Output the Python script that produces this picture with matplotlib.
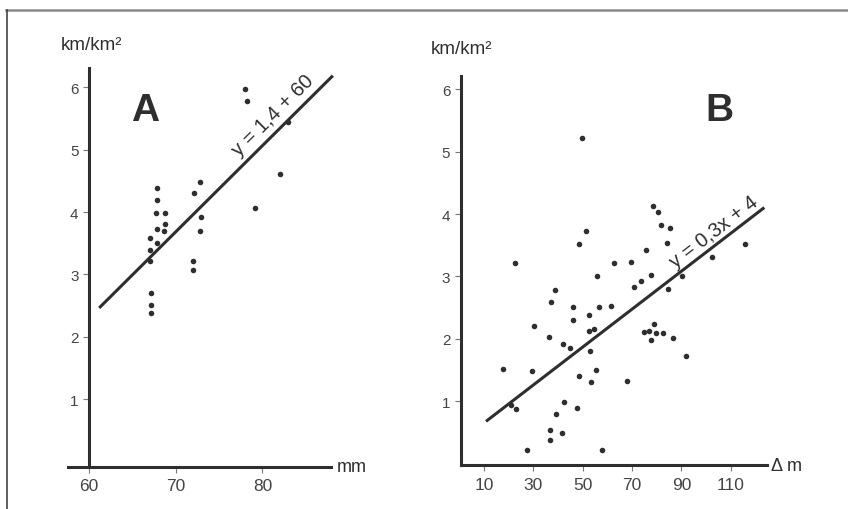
import numpy as np
import matplotlib
matplotlib.use("Agg")
import matplotlib.pyplot as plt
from matplotlib.lines import Line2D

plt.rcParams['font.family'] = ['Liberation Sans', 'DejaVu Sans']

# panel A data (mm vs km/km2)
a_x = [78.0, 78.2, 82.9, 82.0, 79.1,
       72.8, 72.1, 72.9, 72.8, 72.0, 72.0,
       67.9, 67.9, 67.7, 68.8, 68.8, 67.9, 68.7, 67.0, 67.9, 67.0,
       67.0, 67.2, 67.1, 67.1]
a_y = [5.98, 5.78, 5.45, 4.61, 4.06,
       4.48, 4.30, 3.92, 3.70, 3.22, 3.07,
       4.38, 4.19, 3.99, 3.99, 3.81, 3.73, 3.70, 3.59, 3.50, 3.39,
       3.21, 2.71, 2.51, 2.38]
fit_a_x = [61.3, 88.0]
fit_a_y = [2.48, 6.17]

# panel B data (delta m vs km/km2)
b_x = [49.6, 78.4, 80.4, 81.7, 85.5, 51.5, 48.5, 84.2, 75.5, 115.7,
       102.5, 22.4, 62.8, 69.5, 55.7, 77.6, 90.1, 73.5, 70.7, 38.7,
       84.5, 37.0, 45.9, 56.6, 61.6, 52.7, 46.1, 30.4, 78.9, 52.6,
       54.7, 75.0, 76.9, 79.8, 82.7, 36.5, 77.8, 86.5, 41.9, 44.7,
       52.8, 91.9, 17.7, 29.6, 55.5, 48.5, 53.4, 67.8, 42.4, 20.8,
       22.8, 47.7, 39.1, 36.6, 41.7, 36.6, 27.4, 58.0]
b_y = [5.22, 4.13, 4.04, 3.83, 3.77, 3.73, 3.52, 3.53, 3.43, 3.52,
       3.31, 3.21, 3.21, 3.23, 3.00, 3.03, 3.00, 2.93, 2.83, 2.79,
       2.80, 2.59, 2.51, 2.51, 2.52, 2.38, 2.30, 2.21, 2.24, 2.13,
       2.16, 2.11, 2.13, 2.09, 2.10, 2.03, 1.98, 2.02, 1.92, 1.85,
       1.80, 1.72, 1.51, 1.49, 1.50, 1.40, 1.30, 1.32, 0.98, 0.93,
       0.88, 0.89, 0.80, 0.54, 0.49, 0.38, 0.21, 0.21]
fit_b_x = [11.3, 123.1]
fit_b_y = [0.69, 4.09]

yticks = [1, 2, 3, 4, 5, 6]
a_xticks = [60, 70, 80]
b_xticks = [10, 30, 50, 70, 90, 110]

dark = '#2e2e2e'
W, H = 848, 510

fig = plt.figure(figsize=(W / 100, H / 100), dpi=100)


def box(left, right, bottom, top):
    # pixel box -> figure fraction
    return [left / W, 1 - bottom / H, (right - left) / W, (bottom - top) / H]


def style(ax, yaxis_at):
    for s in ['top', 'right']:
        ax.spines[s].set_visible(False)
    ax.spines['left'].set_position(('data', yaxis_at))
    for s in ['left', 'bottom']:
        ax.spines[s].set_color(dark)
        ax.spines[s].set_linewidth(2.2)
    ax.tick_params(axis='y', length=4.5, width=0.8, color='#777777',
                   labelsize=11, labelcolor='#444444', pad=3)
    ax.tick_params(axis='x', length=4.5, width=0.8, color='#777777',
                   labelsize=12.5, labelcolor='#444444', pad=4)
    ax.set_yticks(yticks)
    ax.patch.set_alpha(0)


def fit_label(ax, text, x, y, xs, ys):
    p = ax.transData.transform(np.column_stack([xs, ys]))
    ang = np.degrees(np.arctan2(p[1, 1] - p[0, 1], p[1, 0] - p[0, 0]))
    ax.text(x, y, text, rotation=ang, rotation_mode='anchor',
            ha='center', va='center', fontsize=14.5, color=dark)


# ---- panel A
ax1 = fig.add_axes(box(68, 331, 467.5, 69))
ax1.set_xlim(57.58, 87.91)
ax1.set_ylim(-0.08, 6.31)
style(ax1, 60)
ax1.set_xticks(a_xticks)
ax1.scatter(a_x, a_y, s=16, color=dark, linewidths=0, zorder=3)
ax1.plot(fit_a_x, fit_a_y, color=dark, lw=2.2, clip_on=False)
fit_label(ax1, 'y = 1,4 + 60', 81.2, 5.56, fit_a_x, fit_a_y)

# ---- panel B
ax2 = fig.add_axes(box(460.7, 767.3, 465.7, 77.3))
ax2.set_xlim(0.56, 124.8)
ax2.set_ylim(-0.02, 6.21)
style(ax2, 0.56)
ax2.set_xticks(b_xticks)
ax2.scatter(b_x, b_y, s=16, color=dark, linewidths=0, zorder=3)
ax2.plot(fit_b_x, fit_b_y, color=dark, lw=2.2, clip_on=False)
fit_label(ax2, 'y = 0,3x + 4', 103.2, 3.73, fit_b_x, fit_b_y)

# labels and letters (figure pixel positions)
def ftext(x, y, s, **kw):
    fig.text(x / W, 1 - y / H, s, color=dark, **kw)


ftext(61, 50, 'km/km²', fontsize=13.5, va='baseline')
ftext(431, 54, 'km/km²', fontsize=13.5, va='baseline')
ftext(337, 468, 'mm', fontsize=13, va='center')
ftext(771, 467, 'Δ m', fontsize=13, va='center')
ftext(145, 111, 'A', fontsize=28, fontweight='bold', ha='center', va='center')
ftext(719, 111, 'B', fontsize=28, fontweight='bold', ha='center', va='center')

# frame lines
fig.add_artist(Line2D([6 / W, 1], [1 - 10.7 / H, 1 - 10.7 / H],
                      color='#8a8a8a', lw=1.8))
fig.add_artist(Line2D([6.7 / W, 6.7 / W], [0, 1 - 10.7 / H],
                      color='#333333', lw=1.1))

fig.savefig('out.png', dpi=100)
